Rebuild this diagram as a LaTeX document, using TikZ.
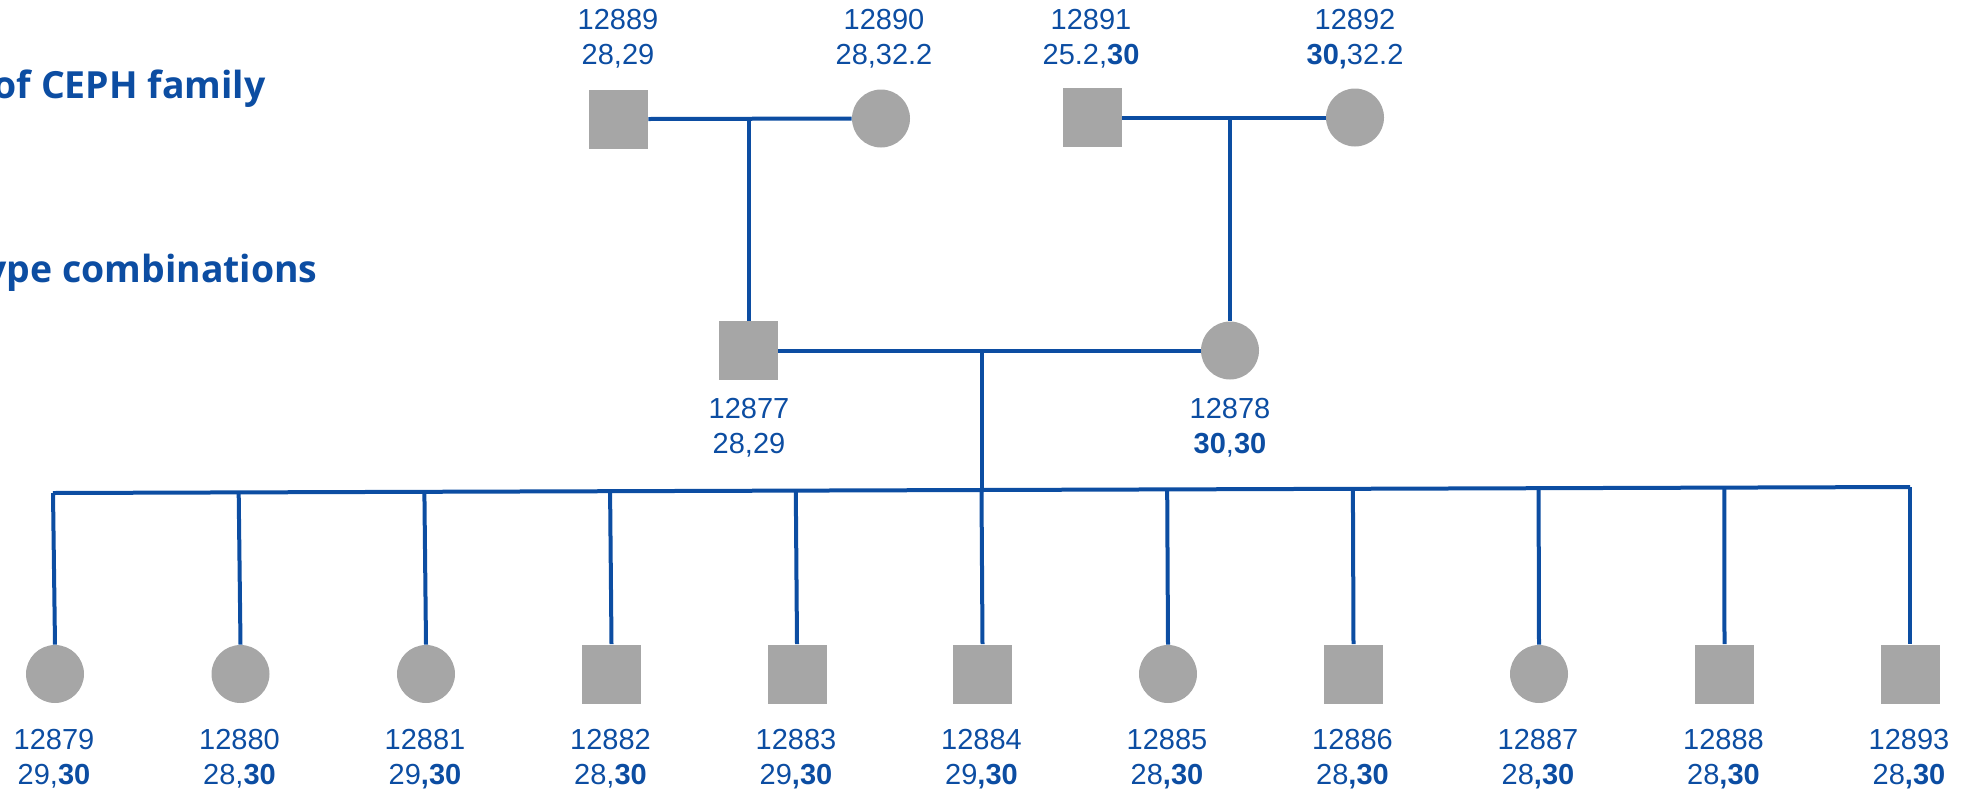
\documentclass[tikz,border=0pt]{standalone}
\usepackage{fontspec}
\setmainfont{Liberation Sans}
\newfontfamily\headfont{Open Sans}
\usetikzlibrary{positioning,calc}
\definecolor{pedblue}{HTML}{0C4DA2}
\definecolor{pedgray}{HTML}{A6A6A6}
\tikzstyle{male} = [rectangle, fill=pedgray, minimum size=29.5pt, inner sep=0pt]
\tikzstyle{female} = [circle, fill=pedgray, minimum size=29pt, inner sep=0pt]
\tikzstyle{bond} = [pedblue, line width=2pt]
\tikzstyle{tag} = [align=center, text=pedblue, inner sep=0pt, anchor=base, font=\fontsize{14.5}{17.5}\selectfont]
\tikzstyle{heading} = [text=pedblue, inner sep=0pt, anchor=base east, font=\headfont\bfseries\fontsize{18.7}{22}\selectfont]

\begin{document}
\begin{tikzpicture}[x=0.5pt, y=-0.5pt]
\useasboundingbox (0,0) rectangle (1977,788);

\node[heading] (title1) at (266,98) {of CEPH family};
\node[heading] (title2) at (318,282) {ype combinations};

% grandparents
\node[male] (p12889) at (618.5,119) {};
\node[female] (p12890) at (881,118.5) {};
\node[male] (p12891) at (1092.5,117.5) {};
\node[female] (p12892) at (1355,117.5) {};
\node[tag] (t12889) at (618,64) {12889\\28,29};
\node[tag] (t12890) at (884,64) {12890\\28,32.2};
\node[tag] (t12891) at (1091,64) {12891\\25.2,\textbf{30}};
\node[tag] (t12892) at (1355,64) {12892\\\textbf{30,}32.2};

% parents
\node[male] (p12877) at (748.5,350.5) {};
\node[female] (p12878) at (1230,350.5) {};
\node[tag] (t12877) at (749,453) {12877\\28,29};
\node[tag] (t12878) at (1230,453) {12878\\\textbf{30},\textbf{30}};

\draw[bond] (p12889.east) -- (p12890.west);
\draw[bond] (p12891.east) -- (p12892.west);
\draw[bond] (p12877.north |- p12889.east) -- (p12877.north);
\draw[bond] (p12878.north |- p12891.east) -- (p12878.north);
\draw[bond] (p12877.east) -- (p12878.west);

% sibship line
\coordinate (sibL) at (53,493);
\coordinate (sibR) at (1910,487);
\coordinate (sib) at ($(sibL)!0.5!(sibR)$);
\draw[bond] (sib |- p12877.east) -- (sib);

% children
\foreach [count=\i from 0] \id/\sex/\gt in {
  12879/female/{29,\textbf{30}}, 12880/female/{28,\textbf{30}},
  12881/female/{29\textbf{,30}}, 12882/male/{28,\textbf{30}},
  12883/male/{29\textbf{,30}}, 12884/male/{29\textbf{,30}},
  12885/female/{28\textbf{,30}}, 12886/male/{28\textbf{,30}},
  12887/female/{28\textbf{,30}}, 12888/male/{28\textbf{,30}},
  12893/male/{28\textbf{,30}}} {
  \node[\sex] (c\id) at ({55+185.5*\i},674) {};
  \node[tag] (t\id) at ({54+185.5*\i},784) {\id\\\gt};
  \draw[bond] ($(sibL)!{\i/10}!(sibR)$) -- (c\id.north);
}
\draw[bond] (sibL) -- (sibR);
\end{tikzpicture}
\end{document}
